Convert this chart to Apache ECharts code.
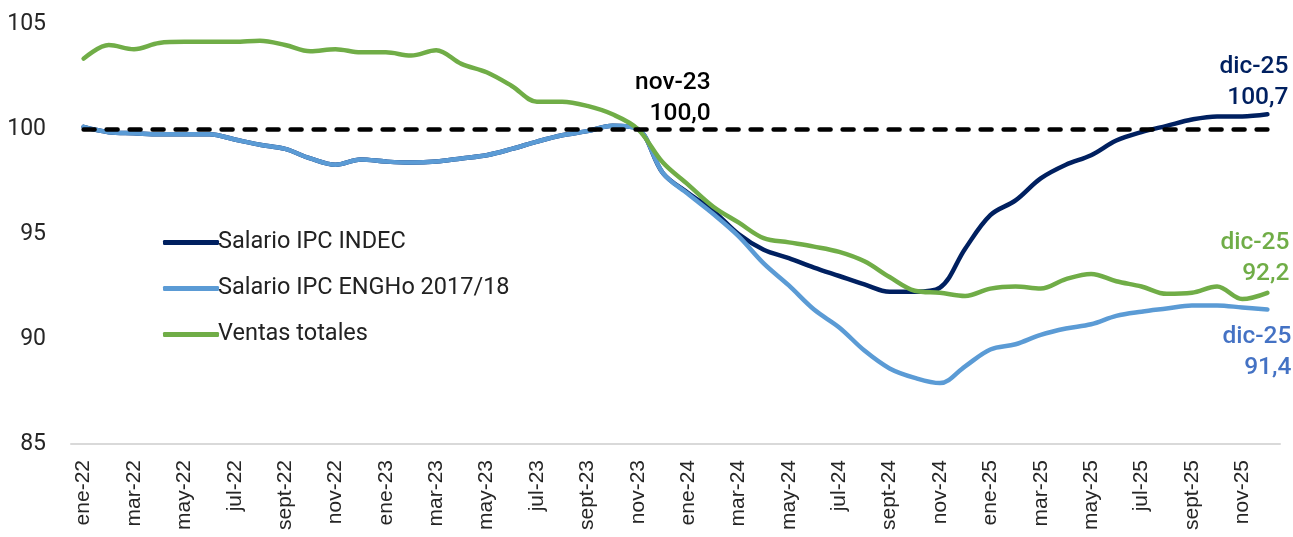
<!DOCTYPE html>
<html>
<head>
<meta charset="utf-8">
<title>Salarios y ventas</title>
<script src="https://cdn.jsdelivr.net/npm/echarts@6/dist/echarts.min.js"></script>
<style>
  html, body { margin: 0; padding: 0; background: #fff; }
  #chart { width: 1293px; height: 537px; }
</style>
</head>
<body>
<div id="chart"></div>
<script>
const months = [
    'ene-22', 'feb-22', 'mar-22', 'abr-22', 'may-22', 'jun-22', 'jul-22', 'ago-22', 'sept-22', 'oct-22', 'nov-22', 'dic-22',
    'ene-23', 'feb-23', 'mar-23', 'abr-23', 'may-23', 'jun-23', 'jul-23', 'ago-23', 'sept-23', 'oct-23', 'nov-23', 'dic-23',
    'ene-24', 'feb-24', 'mar-24', 'abr-24', 'may-24', 'jun-24', 'jul-24', 'ago-24', 'sept-24', 'oct-24', 'nov-24', 'dic-24',
    'ene-25', 'feb-25', 'mar-25', 'abr-25', 'may-25', 'jun-25', 'jul-25', 'ago-25', 'sept-25', 'oct-25', 'nov-25', 'dic-25'
];

// Salario IPC INDEC
const salarioIndec = [
    100.1, 99.85, 99.8, 99.75, 99.75, 99.75, 99.5, 99.25, 99.05, 98.6, 98.3, 98.55,
    98.45, 98.4, 98.45, 98.6, 98.75, 99.05, 99.4, 99.7, 99.9, 100.15, 100.0, 97.9,
    96.95, 96.1, 95.0, 94.25, 93.85, 93.4, 93.0, 92.6, 92.25, 92.25, 92.45, 94.3,
    95.9, 96.6, 97.65, 98.3, 98.75, 99.45, 99.85, 100.15, 100.45, 100.6, 100.6, 100.7
];

// Salario IPC ENGHo 2017/18
const salarioEngho = [
    100.1, 99.85, 99.8, 99.75, 99.75, 99.75, 99.5, 99.25, 99.05, 98.6, 98.3, 98.55,
    98.45, 98.4, 98.45, 98.6, 98.75, 99.05, 99.4, 99.7, 99.9, 100.15, 100.0, 97.9,
    96.9, 95.95, 94.9, 93.6, 92.55, 91.4, 90.55, 89.45, 88.6, 88.15, 87.9, 88.7,
    89.5, 89.75, 90.2, 90.5, 90.7, 91.1, 91.3, 91.45, 91.6, 91.6, 91.5, 91.4
];

// Ventas totales
const ventasTotales = [
    103.35, 104.0, 103.8, 104.1, 104.15, 104.15, 104.15, 104.2, 104.0, 103.7, 103.8, 103.65,
    103.65, 103.5, 103.75, 103.1, 102.7, 102.05, 101.3, 101.3, 101.1, 100.7, 100.0, 98.4,
    97.35, 96.3, 95.55, 94.8, 94.6, 94.4, 94.15, 93.7, 92.95, 92.3, 92.2, 92.05,
    92.4, 92.5, 92.4, 92.85, 93.1, 92.75, 92.5, 92.15, 92.2, 92.5, 91.9, 92.2
];

const yTicks = [85, 90, 95, 100, 105];
const baseMonth = 'nov-23';
const baseValue = 100;

const chart = echarts.init(document.getElementById('chart'));

function fmt(v) {
    return v.toFixed(1).replace('.', ',');
}

// etiqueta de texto sobre un punto concreto
function pointLabel(text, color, position, offset) {
    return {
        show: true,
        formatter: text,
        position: position,
        distance: 4,
        align: 'right',
        offset: offset,
        color: color,
        fontFamily: 'Roboto',
        fontWeight: 500,
        fontSize: 24.5,
        lineHeight: 31
    };
}

function withLabels(values, labels) {
    return values.map(function (v, i) {
        if (labels[i]) {
            return { value: v, label: labels[i] };
        }
        return v;
    });
}

const last = months.length - 1;
const baseIdx = months.indexOf(baseMonth);

const indecLabels = {};
indecLabels[last] = pointLabel(months[last] + '\n' + fmt(salarioIndec[last]), '#002060', 'top', [21, 3]);

const enghoLabels = {};
enghoLabels[last] = pointLabel(months[last] + '\n' + fmt(salarioEngho[last]), '#4472C4', 'bottom', [24, 8]);

const ventasLabels = {};
ventasLabels[last] = pointLabel(months[last] + '\n' + fmt(ventasTotales[last]), '#70AD47', 'top', [22, 1]);
ventasLabels[baseIdx] = pointLabel(baseMonth + '\n' + fmt(baseValue), '#000', 'top', [73, 4]);

const lineBase = {
    type: 'line',
    smooth: 0.35,
    symbol: 'circle',
    symbolSize: 0,
    showSymbol: true,
    showAllSymbol: true,
    label: { show: false },
    lineStyle: { width: 4.5, cap: 'round', join: 'round' },
    emphasis: { disabled: true }
};

const option = {
    animation: false,
    backgroundColor: '#fff',
    grid: { left: 71, right: 13, top: 24, bottom: 93, containLabel: false },
    legend: {
        orient: 'vertical',
        left: 158,
        top: 225,
        itemWidth: 56,
        itemHeight: 5,
        itemGap: 21,
        icon: 'roundRect',
        textStyle: { fontFamily: 'Roboto', fontSize: 23.5, color: '#222', lineHeight: 25, padding: [0, 0, 0, -6] },
        data: ['Salario IPC INDEC', 'Salario IPC ENGHo 2017/18', 'Ventas totales']
    },
    xAxis: {
        type: 'category',
        data: months,
        boundaryGap: true,
        axisLine: { show: true, lineStyle: { color: '#d9d9d9', width: 2 } },
        axisTick: { show: false },
        splitLine: { show: false },
        axisLabel: {
            rotate: 90,
            interval: 1,
            margin: 16,
            fontFamily: 'Liberation Sans',
            fontSize: 21,
            color: '#262626'
        }
    },
    yAxis: {
        type: 'value',
        min: yTicks[0],
        max: yTicks[yTicks.length - 1],
        interval: 5,
        axisLine: { show: false },
        axisTick: { show: false },
        splitLine: { show: false },
        axisLabel: {
            margin: 25,
            fontFamily: 'Roboto',
            fontSize: 23,
            color: '#262626'
        }
    },
    series: [
        Object.assign({}, lineBase, {
            name: 'Salario IPC INDEC',
            color: '#002060',
            data: withLabels(salarioIndec, indecLabels)
        }),
        Object.assign({}, lineBase, {
            name: 'Salario IPC ENGHo 2017/18',
            color: '#5B9BD5',
            data: withLabels(salarioEngho, enghoLabels),
            markLine: {
                silent: true,
                symbol: 'none',
                label: { show: false },
                lineStyle: { color: '#000', width: 4.5, type: [11, 12], cap: 'round' },
                data: [[{ coord: [months[0], baseValue] }, { coord: [months[last], baseValue] }]]
            }
        }),
        Object.assign({}, lineBase, {
            name: 'Ventas totales',
            color: '#70AD47',
            data: withLabels(ventasTotales, ventasLabels)
        })
    ]
};

chart.setOption(option);
</script>
</body>
</html>
